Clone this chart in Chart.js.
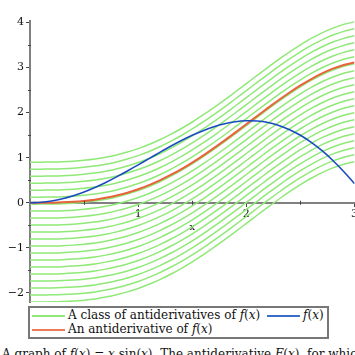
<!DOCTYPE html>
<html><head><meta charset="utf-8">
<script src="https://cdn.jsdelivr.net/npm/chart.js@4/dist/chart.umd.min.js"></script>
<style>
html,body{margin:0;padding:0;background:#fff;}
body{width:355px;height:355px;overflow:hidden;position:relative;font-family:"DejaVu Serif",serif;}
#wrap{position:absolute;left:0;top:0;width:360px;height:332px;}
#legend{position:absolute;left:28px;top:306px;width:297px;height:29px;border:2px solid #777;background:#fff;font-size:12px;color:#111;z-index:2;}
.sw{position:absolute;width:33px;height:2px;}
.lt{position:absolute;white-space:nowrap;line-height:13px;}
#caption{position:absolute;left:2px;top:347px;font-size:12px;white-space:nowrap;color:#111;line-height:14px;}
i{font-style:italic;}
</style></head>
<body>
<div id="wrap"><canvas id="c" width="360" height="332"></canvas></div>
<div id="legend">
  <div class="sw" style="left:2px;top:7px;background:#8fe977"></div>
  <div class="lt" style="left:38px;top:1px">A class of antiderivatives of <i>f</i>(<i>x</i>)</div>
  <div class="sw" style="left:237px;top:7px;background:#3a6cc8"></div>
  <div class="lt" style="left:273px;top:1px"><i>f</i>(<i>x</i>)</div>
  <div class="sw" style="left:2px;top:21px;background:#ee7a58"></div>
  <div class="lt" style="left:38px;top:15px">An antiderivative of <i>f</i>(<i>x</i>)</div>
</div>
<div id="caption">A graph of <i>f</i>(<i>x</i>) = <i>x</i> sin(<i>x</i>). The antiderivative <i>F</i>(<i>x</i>), for which <i>F</i>(0) = 0, is shown in orange.</div>
<script>
// x sample positions
const xs = [0,0.1,0.2,0.3,0.4,0.5,0.6,0.7,0.8,0.9,1.0,1.1,1.2,1.3,1.4,1.5,1.6,1.7,1.8,1.9,2.0,2.1,2.2,2.3,2.4,2.5,2.6,2.7,2.8,2.9,3.0];
// the antiderivative F(x) (orange)
const antiderivative = [0,0.000,0.003,0.009,0.021,0.041,0.069,0.109,0.160,0.224,0.301,0.392,0.497,0.616,0.747,0.891,1.046,1.211,1.383,1.561,1.742,1.923,2.103,2.278,2.445,2.601,2.743,2.868,2.973,3.055,3.111];
// f(x) (blue)
const fValues = [0,0.010,0.040,0.089,0.156,0.240,0.339,0.451,0.574,0.705,0.841,0.980,1.118,1.253,1.380,1.496,1.599,1.686,1.753,1.798,1.819,1.813,1.779,1.715,1.621,1.496,1.340,1.154,0.938,0.694,0.423];
// constants of the class of antiderivatives (green)
const constants = [0.9,0.745,0.59,0.435,0.28,0.125,-0.03,-0.185,-0.34,-0.495,-0.65,-0.805,-0.96,-1.115,-1.27,-1.425,-1.58,-1.735,-1.89,-2.045,-2.2];
const yTicks = [-2,-1,0,1,2,3,4];
const xTicks = [1,2,3];

const GREEN='#8fe977', ORANGE='#e8633c', BLUE='#1a4cc0';
// Chart.js paints the first dataset on top, so blue first, then orange, then greens
const datasets = [];
datasets.push({data: xs.map((x,i)=>({x, y: fValues[i]})), borderColor: BLUE, borderWidth: 1.6});
datasets.push({data: xs.map((x,i)=>({x, y: antiderivative[i]})), borderColor: ORANGE, borderWidth: 2});
constants.forEach(c => {
  datasets.push({data: xs.map((x,i)=>({x, y: antiderivative[i]+c})), borderColor: GREEN, borderWidth: 1.5});
});

const minorTicks = {
  id: 'minorTicks',
  afterDraw(chart){
    const ctx = chart.ctx, xS = chart.scales.x, yS = chart.scales.y;
    ctx.save(); ctx.strokeStyle = '#444'; ctx.lineWidth = 1;
    const x0 = xS.getPixelForValue(0), y0 = yS.getPixelForValue(0);
    [-1.5,-0.5,0.5,1.5,2.5,3.5].forEach(v=>{ const p = Math.round(yS.getPixelForValue(v))+0.5; ctx.beginPath(); ctx.moveTo(x0-2,p); ctx.lineTo(x0+1,p); ctx.stroke();});
    [0.5,1.5,2.5].forEach(v=>{ const p = Math.round(xS.getPixelForValue(v))+0.5; ctx.beginPath(); ctx.moveTo(p,y0-2); ctx.lineTo(p,y0+2); ctx.stroke();});
    ctx.restore();
  }
};

const fmt = v => v < 0 ? '\u2212' + Math.abs(v) : String(v);

new Chart(document.getElementById('c'), {
  type: 'line',
  data: {datasets},
  plugins: [minorTicks],
  options: {
    responsive: false, devicePixelRatio: 1, animation: false,
    layout: {padding: {top: 21, right: 5, left: 0, bottom: 30}},
    elements: {point: {radius: 0}, line: {tension: 0.3, fill: false}},
    plugins: {legend: {display: false}, tooltip: {enabled: false}},
    scales: {
      x: {
        type: 'linear', min: 0, max: 3, position: {y: 0},
        afterFit: s => { s.height = 31; },
        border: {display: true, color: '#808080', width: 2},
        grid: {display: true, drawOnChartArea: false, drawTicks: true, tickLength: 3, color: '#444', lineWidth: 1},
        ticks: {stepSize: 1, includeBounds: false, autoSkip: false, maxRotation: 0, padding: 2, color: '#111',
          font: {family: 'DejaVu Serif', size: 11},
          callback: v => xTicks.includes(v) ? fmt(v) : ''},
        title: {display: true, text: 'x', color: '#111', font: {family: 'DejaVu Serif', size: 10}, padding: 0}
      },
      y: {
        type: 'linear', min: -2.2, max: 4.03,
        afterFit: s => { s.width = 30; },
        border: {display: true, color: '#808080', width: 2},
        grid: {display: true, drawOnChartArea: false, drawTicks: true, tickLength: 4, color: '#444', lineWidth: 1},
        ticks: {stepSize: 1, includeBounds: false, padding: 2, color: '#111',
          font: {family: 'DejaVu Serif', size: 11},
          callback: v => yTicks.includes(v) ? fmt(v) : ''}
      }
    }
  }
});
</script>
</body></html>
